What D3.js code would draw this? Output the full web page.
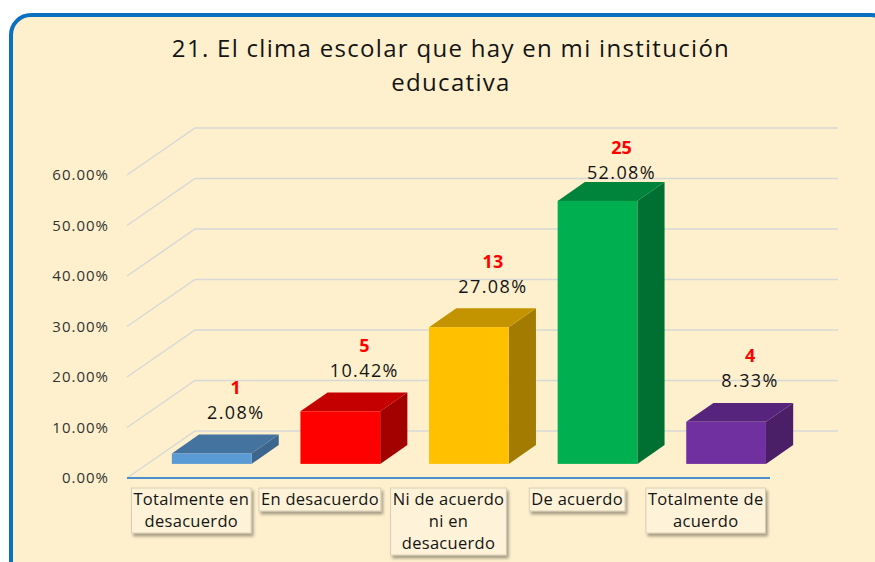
<!DOCTYPE html>
<html>
<head>
<meta charset="utf-8">
<script src="https://cdn.jsdelivr.net/npm/d3@7"></script>
<style>
  html, body { margin: 0; padding: 0; background: #ffffff; }
  svg { display: block; }
</style>
</head>
<body>
<svg id="chart"></svg>
<script>
// data
const categories = ["Totalmente en desacuerdo", "En desacuerdo", "Ni de acuerdo ni en desacuerdo", "De acuerdo", "Totalmente de acuerdo"];
const categoryLines = [["Totalmente en", "desacuerdo"], ["En desacuerdo"], ["Ni de acuerdo", "ni en", "desacuerdo"], ["De acuerdo"], ["Totalmente de", "acuerdo"]];
const counts = [1, 5, 13, 25, 4];
const percents = [0.0208, 0.1042, 0.2708, 0.5208, 0.0833];
const yTicks = [0, 0.1, 0.2, 0.3, 0.4, 0.5, 0.6];
const frontColors = ["#5b9bd5", "#ff0000", "#ffc000", "#00b050", "#7030a0"];
const topColors = ["#4573a0", "#c40000", "#c49400", "#00843c", "#56247c"];
const sideColors = ["#3d668f", "#a30000", "#a37b00", "#006f32", "#4a1f68"];

const W = 875, H = 562;
const FONT = "'Open Sans', 'Liberation Sans', sans-serif";

const svg = d3.select("#chart").attr("width", W).attr("height", H);

const defs = svg.append("defs");
const shadow = defs.append("filter").attr("id", "shadow")
    .attr("x", "-10%").attr("y", "-10%").attr("width", "130%").attr("height", "140%");
shadow.append("feDropShadow")
    .attr("dx", 2).attr("dy", 3).attr("stdDeviation", 1.5)
    .attr("flood-color", "#000").attr("flood-opacity", 0.35);

// chart area with rounded blue frame
svg.append("rect")
    .attr("x", 11).attr("y", 15)
    .attr("width", 880).attr("height", 580)
    .attr("rx", 20)
    .attr("fill", "#fef0cd")
    .attr("stroke", "#0a70c0")
    .attr("stroke-width", 4);

// title
const title = svg.append("text")
    .attr("text-anchor", "middle")
    .attr("font-family", FONT)
    .attr("font-size", 24)
    .attr("letter-spacing", 1.3)
    .attr("fill", "#141414");
title.append("tspan").attr("x", 451).attr("y", 57).text("21. El clima escolar que hay en mi institución");
title.append("tspan").attr("x", 451).attr("y", 91).text("educativa");

// front plane scales, depth as oblique offset
const x = d3.scaleBand()
    .domain(categories)
    .range([127, 770])
    .paddingInner(0.38)
    .paddingOuter(0.19);

const y = d3.scaleLinear()
    .domain([0, 0.6])
    .range([478, 175]);

const depth = { dx: 68, dy: -47 };
const barFront = 0.3, barDepth = 0.4;
const off = f => ({ dx: depth.dx * f, dy: depth.dy * f });

const grid = svg.append("g")
    .attr("stroke", "#d8d8d8")
    .attr("stroke-width", 1.5)
    .attr("fill", "none");

const x0 = x.range()[0], x1 = x.range()[1];

// side wall diagonals + back wall lines
yTicks.forEach(t => {
    grid.append("path")
        .attr("d", `M${x0},${y(t)} L${x0 + depth.dx},${y(t) + depth.dy} L${x1 + depth.dx},${y(t) + depth.dy}`);
});

// y axis labels
svg.append("g")
    .selectAll("text")
    .data(yTicks)
    .join("text")
    .attr("x", 109)
    .attr("y", d => y(d))
    .attr("dy", "0.35em")
    .attr("text-anchor", "end")
    .attr("font-family", FONT)
    .attr("font-size", 15)
    .attr("letter-spacing", 1)
    .attr("fill", "#333333")
    .text(d => d3.format(".2%")(d));

// front axis line
svg.append("line")
    .attr("x1", x0).attr("x2", x1)
    .attr("y1", y(0)).attr("y2", y(0))
    .attr("stroke", "#4a8fd0")
    .attr("stroke-width", 2);

// 3D bars
const bars = svg.append("g");
const fo = off(barFront), bd = off(barDepth);

categories.forEach((c, i) => {
    const bx = x(c) + fo.dx;
    const bw = x.bandwidth();
    const yb = y(0) + fo.dy;
    const yt = y(percents[i]) + fo.dy;
    const g = bars.append("g");
    // side
    g.append("path")
        .attr("d", `M${bx + bw},${yt} L${bx + bw + bd.dx},${yt + bd.dy} L${bx + bw + bd.dx},${yb + bd.dy} L${bx + bw},${yb} Z`)
        .attr("fill", sideColors[i]);
    // top
    g.append("path")
        .attr("d", `M${bx},${yt} L${bx + bd.dx},${yt + bd.dy} L${bx + bw + bd.dx},${yt + bd.dy} L${bx + bw},${yt} Z`)
        .attr("fill", topColors[i]);
    // front
    g.append("rect")
        .attr("x", bx).attr("y", yt)
        .attr("width", bw).attr("height", yb - yt)
        .attr("fill", frontColors[i]);

    // labels
    const cx = bx + bw / 2 + 24;
    const py = Math.max(yt + bd.dy - 22, 173);
    g.append("text")
        .attr("x", cx).attr("y", py)
        .attr("dy", "0.35em")
        .attr("text-anchor", "middle")
        .attr("font-family", FONT)
        .attr("font-size", 18)
        .attr("letter-spacing", 1.4)
        .attr("fill", "#141414")
        .text(d3.format(".2%")(percents[i]));
    g.append("text")
        .attr("x", cx).attr("y", py - 25)
        .attr("dy", "0.35em")
        .attr("text-anchor", "middle")
        .attr("font-family", FONT)
        .attr("font-size", 18)
        .attr("font-weight", "bold")
        .attr("fill", "#ff0000")
        .text(counts[i]);
});

// category label boxes
const catG = svg.append("g");
categories.forEach((c, i) => {
    const cx = x(c) + x.bandwidth() / 2;
    const g = catG.append("g");
    const box = g.append("rect")
        .attr("fill", "#fef3d8")
        .attr("stroke", "#cfc6b0")
        .attr("stroke-width", 0.8)
        .attr("filter", "url(#shadow)");
    const t = g.append("text")
        .attr("text-anchor", "middle")
        .attr("font-family", FONT)
        .attr("font-size", 16.5)
        .attr("letter-spacing", 0.3)
        .attr("fill", "#141414");
    categoryLines[i].forEach((line, k) => {
        t.append("tspan").attr("x", cx).attr("y", 505 + k * 22).text(line);
    });
    const bb = t.node().getBBox();
    box.attr("x", bb.x - 2).attr("y", 488)
        .attr("width", bb.width + 4)
        .attr("height", categoryLines[i].length * 22 + 1);
});
</script>
</body>
</html>
